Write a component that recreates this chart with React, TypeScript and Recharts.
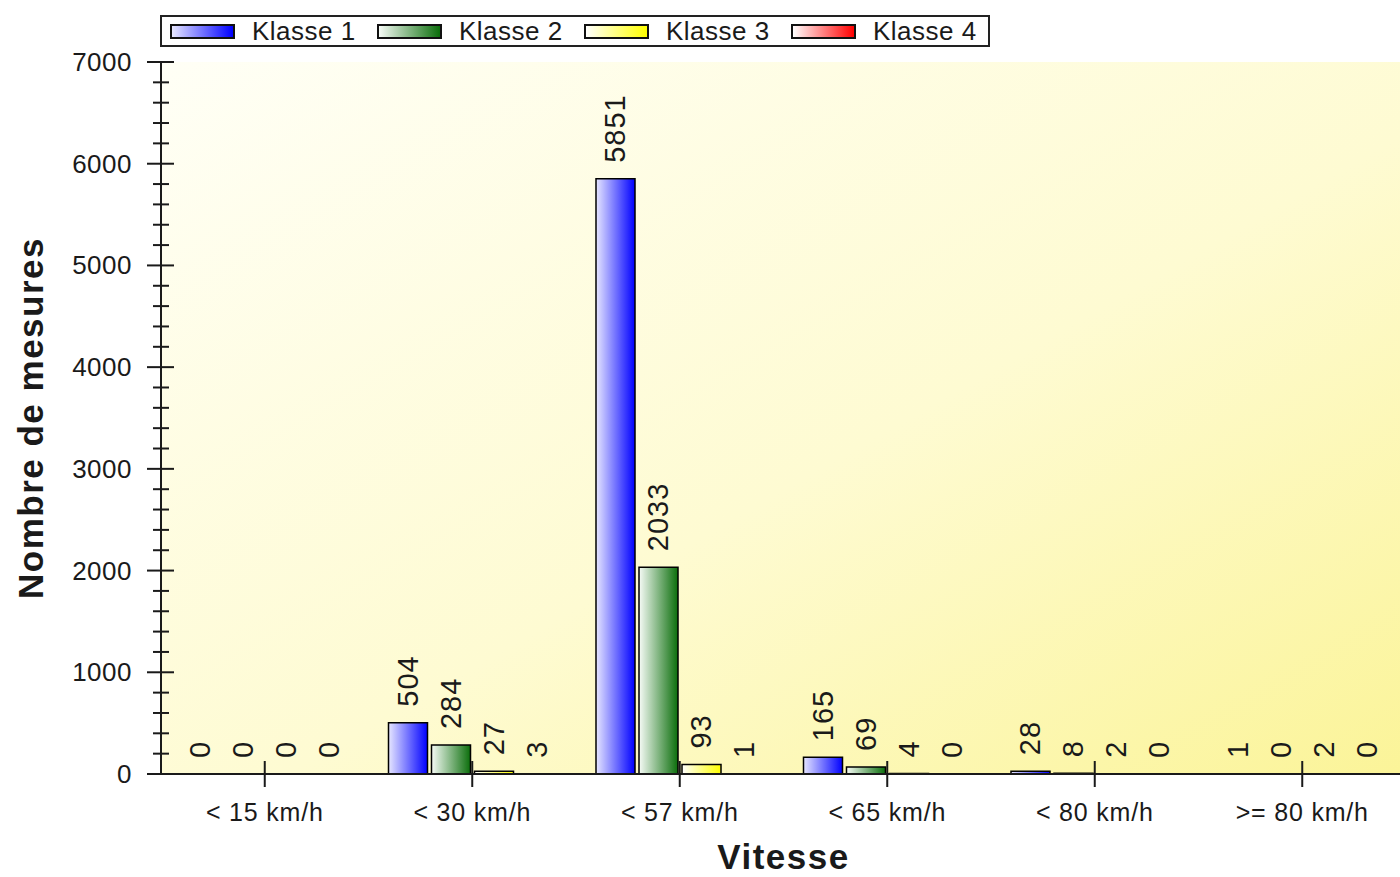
import React from 'react';
import { BarChart, Bar, XAxis, YAxis, CartesianGrid, Legend, LabelList } from 'recharts';

const categories = ['< 15 km/h', '< 30 km/h', '< 57 km/h', '< 65 km/h', '< 80 km/h', '>= 80 km/h'];
const klasse1 = [0, 504, 5851, 165, 28, 1];
const klasse2 = [0, 284, 2033, 69, 8, 0];
const klasse3 = [0, 27, 93, 4, 2, 2];
const klasse4 = [0, 3, 1, 0, 0, 0];

const seriesKeys = ['k1', 'k2', 'k3', 'k4'];
const seriesNames = ['Klasse 1', 'Klasse 2', 'Klasse 3', 'Klasse 4'];
const seriesColors = ['#0000ff', '#0b6e0b', '#ffff00', '#ff0000'];
const seriesLight = ['#e6e6ff', '#f6fbf6', '#ffffff', '#ffffff'];

const majorTicks = [0, 1000, 2000, 3000, 4000, 5000, 6000, 7000];

const data = categories.map((cat, i) => ({
  cat,
  k1: klasse1[i],
  k2: klasse2[i],
  k3: klasse3[i],
  k4: klasse4[i],
}));

// minor ticks every 200 between the labelled ones
const allTicks: number[] = [];
for (let v = 0; v <= 7000; v += 200) allTicks.push(v);

const FONT = "'Liberation Sans', Arial, sans-serif";
const INK = '#1a1a1a';

const BottomTick = (props: any) => {
  const { x, y, payload } = props;
  return (
    <g>
      <line x1={x} x2={x} y1={y - 13} y2={y + 13} stroke={INK} strokeWidth={2} />
      <text x={x} y={y + 47} textAnchor="middle" fontSize={25} letterSpacing={0.8} fontFamily={FONT} fill={INK}>
        {payload.value}
      </text>
    </g>
  );
};

const TopTick = (props: any) => {
  const { x, y } = props;
  return <line x1={x} x2={x} y1={y} y2={y + 13} stroke={INK} strokeWidth={2} />;
};

const LeftTick = (props: any) => {
  const { x, y, payload } = props;
  const major = payload.value % 1000 === 0;
  if (!major) {
    return <line x1={x - 8} x2={x + 8} y1={y} y2={y} stroke={INK} strokeWidth={2} />;
  }
  return (
    <g>
      <line x1={x - 14} x2={x + 13} y1={y} y2={y} stroke={INK} strokeWidth={2} />
      <text x={x - 29} y={y + 9} textAnchor="end" fontSize={26} letterSpacing={0.5} fontFamily={FONT} fill={INK}>
        {payload.value}
      </text>
    </g>
  );
};

const RightTick = (props: any) => {
  const { x, y } = props;
  return <line x1={x - 13} x2={x} y1={y} y2={y} stroke={INK} strokeWidth={2} />;
};

const ValueLabel = (props: any) => {
  const vb = props.viewBox || {};
  const x = props.x ?? vb.x;
  const y = props.y ?? vb.y;
  const width = props.width ?? vb.width;
  const height = props.height ?? vb.height;
  const top = Math.min(y, y + height);
  const cx = x + width / 2;
  const cy = top - 16;
  return (
    <text
      x={cx}
      y={cy}
      transform={`rotate(-90, ${cx}, ${cy})`}
      textAnchor="start"
      dominantBaseline="central"
      fontSize={29}
      letterSpacing={1}
      fontFamily={FONT}
      fill={INK}
    >
      {props.value}
    </text>
  );
};

const YTitle = (props: any) => {
  const vb = props.viewBox || { x: 0, y: 62, width: 161, height: 712 };
  const cx = vb.x + 30;
  const cy = vb.y + vb.height / 2;
  return (
    <text
      x={cx}
      y={cy}
      transform={`rotate(-90, ${cx}, ${cy})`}
      textAnchor="middle"
      dominantBaseline="central"
      fontSize={35}
      letterSpacing={1.5}
      fontWeight="bold"
      fontFamily={FONT}
      fill={INK}
    >
      Nombre de mesures
    </text>
  );
};

const XTitle = (props: any) => {
  const vb = props.viewBox || { x: 161, y: 774, width: 1245, height: 103 };
  return (
    <text
      x={vb.x + vb.width / 2}
      y={vb.y + vb.height - 8}
      textAnchor="middle"
      fontSize={35}
      letterSpacing={1.5}
      fontWeight="bold"
      fontFamily={FONT}
      fill={INK}
    >
      Vitesse
    </text>
  );
};

const renderLegend = () => (
  <div
    style={{
      display: 'flex',
      alignItems: 'center',
      border: '2px solid #222',
      background: '#fff',
      height: 32,
      width: 830,
      padding: '0 0 0 8px',
      boxSizing: 'border-box',
      fontFamily: FONT,
      fontSize: 26,
      letterSpacing: 0.5,
      color: INK,
    }}
  >
    {seriesNames.map((n, i) => (
      <div key={n} style={{ display: 'flex', alignItems: 'center', width: i < 3 ? 207 : 190, flex: 'none' }}>
        <span
          style={{
            display: 'inline-block',
            width: 65,
            height: 15,
            border: '2px solid #111',
            boxSizing: 'border-box',
            background: `linear-gradient(to right, ${seriesLight[i]}, ${seriesColors[i]})`,
            marginRight: 17,
          }}
        />
        <span style={{ whiteSpace: 'nowrap' }}>{n}</span>
      </div>
    ))}
  </div>
);

export default function App() {
  return (
    <div
      style={{
        position: 'fixed',
        left: 0,
        top: 0,
        width: 1400,
        height: 877,
        overflow: 'hidden',
        background: '#fff',
      }}
    >
      <BarChart
        width={1420}
        height={877}
        data={data}
        margin={{ top: 62, right: 14, bottom: 0, left: 0 }}
        barSize={39}
        barGap={4}
      >
        <defs>
          <linearGradient id="plotBg" x1="0" y1="0" x2="1" y2="1">
            <stop offset="0%" stopColor="#fffff6" />
            <stop offset="55%" stopColor="#fefbd2" />
            <stop offset="100%" stopColor="#fbf498" />
          </linearGradient>
          {seriesKeys.map((k, i) => (
            <linearGradient key={k} id={`grad-${k}`} x1="0" y1="0" x2="1" y2="0">
              <stop offset="0%" stopColor={seriesLight[i]} />
              <stop offset="100%" stopColor={seriesColors[i]} />
            </linearGradient>
          ))}
        </defs>
        <CartesianGrid horizontal={false} vertical={false} fill="url(#plotBg)" stroke="none" />
        <XAxis
          dataKey="cat"
          height={103}
          axisLine={{ stroke: INK, strokeWidth: 2 }}
          tickLine={false}
          tickSize={0}
          tickMargin={0}
          tick={<BottomTick />}
          interval={0}
          label={<XTitle />}
        />
        <XAxis
          xAxisId="top"
          orientation="top"
          dataKey="cat"
          height={0}
          axisLine={{ stroke: INK, strokeWidth: 2 }}
          tickLine={false}
          tickSize={0}
          tickMargin={0}
          tick={<TopTick />}
          interval={0}
        />
        <YAxis
          width={161}
          domain={[0, 7000]}
          ticks={allTicks}
          interval={0}
          axisLine={{ stroke: INK, strokeWidth: 2 }}
          tickLine={false}
          tickSize={0}
          tickMargin={0}
          tick={<LeftTick />}
          label={<YTitle />}
        />
        <YAxis
          yAxisId="right"
          orientation="right"
          width={0}
          domain={[0, 7000]}
          ticks={majorTicks}
          interval={0}
          axisLine={{ stroke: INK, strokeWidth: 2 }}
          tickLine={false}
          tickSize={0}
          tickMargin={0}
          tick={<RightTick />}
        />
        <Legend
          layout="horizontal"
          verticalAlign="middle"
          align="center"
          wrapperStyle={{ top: 15, left: 160, width: 830, height: 32 }}
          content={renderLegend}
        />
        {seriesKeys.map((k, i) => (
          <Bar
            key={k}
            dataKey={k}
            name={seriesNames[i]}
            fill={`url(#grad-${k})`}
            stroke="#000"
            strokeWidth={1.5}
            minPointSize={0.01}
            isAnimationActive={false}
          >
            <LabelList dataKey={k} content={<ValueLabel />} />
          </Bar>
        ))}
      </BarChart>
    </div>
  );
}
